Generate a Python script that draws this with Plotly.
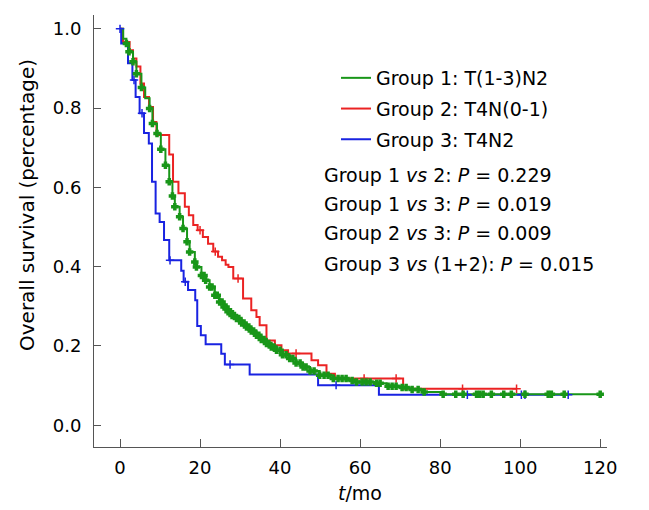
import plotly.graph_objects as go

# ---------------- data ----------------
# Group 1: T(1-3)N2  (green)
g1_time = [0, 0.8, 1.6, 2.25, 3.25, 4.1, 5.35, 6.3, 7.4, 8.1, 9.25, 10.2, 11.35, 12.3, 13.1,
           13.7, 14.9, 15.75, 16.75, 17.4, 18.7, 19.1, 20.35, 21.4, 22.4, 23.7, 24.9, 26.0,
           27.0, 28.0, 29.1, 30.4, 31.6, 32.8, 34.1, 35.3, 36.6, 37.8, 39.1, 40.6, 42.4,
           44.0, 45.75, 47.5, 49.9, 53.3, 57.0, 59.1, 64.1, 66.6, 70.0, 72.4, 75.75, 80.75]
g1_surv = [1.0, 0.975, 0.963, 0.942, 0.917, 0.887, 0.852, 0.825, 0.799, 0.761, 0.736, 0.696,
           0.656, 0.614, 0.578, 0.551, 0.526, 0.496, 0.463, 0.437, 0.412, 0.399, 0.378, 0.366,
           0.349, 0.328, 0.311, 0.298, 0.286, 0.277, 0.269, 0.258, 0.248, 0.238, 0.227, 0.216,
           0.206, 0.197, 0.189, 0.178, 0.168, 0.157, 0.147, 0.137, 0.126, 0.118, 0.113, 0.109,
           0.106, 0.098, 0.095, 0.090, 0.084, 0.078]
g1_end = 120.0
g1_censor = [1.6, 2.25, 3.25, 4.1, 5.35, 7.4, 8.1, 9.25, 10.2, 11.35, 12.3, 13.1, 13.7, 14.9,
             15.75, 16.75, 17.4, 18.7, 19.1, 20.35, 21.0, 21.4, 22.4, 23.0, 23.7, 24.3, 24.9,
             25.5, 26.0, 26.5, 27.0, 27.6, 28.0, 28.6, 29.1, 29.7, 30.4, 31.0, 31.6, 32.2,
             32.8, 33.4, 34.1, 34.7, 35.3, 36.0, 36.6, 37.2, 37.8, 38.5, 39.1, 40.0, 40.6,
             41.5, 42.4, 43.2, 44.0, 45.0, 45.75, 46.5, 47.5, 48.5, 49.9, 51.0, 52.0, 53.3,
             54.5, 55.5, 56.5, 58.0, 59.1, 60.5, 61.5, 62.5, 64.1, 65.0, 67.0, 68.0, 69.0,
             70.5, 71.5, 73.0, 74.5, 76.0, 80.75, 83.9, 85.75, 89.1, 89.9, 90.75, 92.8, 95.9,
             97.8, 101.2, 107.0, 107.8, 111.0, 120.0]

# Group 2: T4N(0-1)  (red)
g2_time = [0, 0.75, 2.4, 3.25, 4.1, 5.1, 6.0, 7.25, 8.25, 9.1, 12.3, 13.25, 14.6, 16.2, 17.2,
           18.3, 19.4, 20.7, 22.0, 23.3, 24.5, 25.5, 26.4, 27.1, 28.3, 30.75, 32.8, 34.1,
           34.9, 36.6, 38.7, 40.35, 42.0, 47.85, 49.5, 51.6, 53.7, 70.75]
g2_surv = [1.0, 0.967, 0.946, 0.925, 0.905, 0.862, 0.828, 0.803, 0.765, 0.732, 0.683, 0.614,
           0.585, 0.551, 0.530, 0.505, 0.492, 0.475, 0.458, 0.438, 0.425, 0.416, 0.405, 0.399,
           0.370, 0.320, 0.290, 0.273, 0.252, 0.214, 0.202, 0.189, 0.181, 0.164, 0.151, 0.130,
           0.118, 0.092]
g2_end = 99.1
g2_censor = [20.0, 23.8, 29.5, 44.0, 61.0, 69.0, 85.6, 99.1]

# Group 3: T4N2  (blue)
g3_time = [0, 0.3, 2.0, 3.1, 3.9, 4.9, 6.0, 7.2, 8.0, 8.9, 9.9, 11.0, 12.3, 15.3, 15.9, 17.0,
           18.8, 19.3, 20.2, 21.4, 25.3, 26.2, 32.4, 49.5, 64.7]
g3_surv = [1.0, 0.963, 0.913, 0.871, 0.828, 0.787, 0.737, 0.711, 0.614, 0.534, 0.513, 0.467,
           0.416, 0.390, 0.362, 0.341, 0.315, 0.250, 0.227, 0.204, 0.180, 0.153, 0.128, 0.101,
           0.077]
g3_end = 112.0
g3_censor = [0, 3.5, 5.5, 12.5, 16.3, 27.5, 54.0, 86.8, 100.3, 101.2, 112.0]

group_names = ["Group 1: T(1-3)N2", "Group 2: T4N(0-1)", "Group 3: T4N2"]
group_colors = ["rgb(25,150,25)", "rgb(235,35,35)", "rgb(25,35,225)"]

x_ticks = [0, 20, 40, 60, 80, 100, 120]
y_ticks = [0.0, 0.2, 0.4, 0.6, 0.8, 1.0]
y_ticklabels = ["0.0", "0.2", "0.4", "0.6", "0.8", "1.0"]

stat_lines = [
    "Group 1 <i>vs</i> 2: <i>P</i> = 0.229",
    "Group 1 <i>vs</i> 3: <i>P</i> = 0.019",
    "Group 2 <i>vs</i> 3: <i>P</i> = 0.009",
    "Group 3 <i>vs</i> (1+2): <i>P</i> = 0.015",
]

FONT = "DejaVu Sans, Verdana, sans-serif"


def step_at(times, surv, t):
    val = surv[0]
    for ti, si in zip(times, surv):
        if ti <= t:
            val = si
    return val


groups = [
    (g1_time, g1_surv, g1_end, g1_censor),
    (g2_time, g2_surv, g2_end, g2_censor),
    (g3_time, g3_surv, g3_end, g3_censor),
]

fig = go.Figure()
draw_order = [1, 2, 0]  # red, blue, then green on top
for gi in draw_order:
    times, surv, end, cens = groups[gi]
    xs = list(times) + [end]
    ys = list(surv) + [surv[-1]]
    fig.add_trace(go.Scatter(
        x=xs, y=ys, mode="lines", line_shape="hv",
        line=dict(color=group_colors[gi], width=2),
        name=group_names[gi], legendgroup=f"g{gi}", legendrank=gi + 1,
        showlegend=True,
    ))
for gi in draw_order:
    times, surv, end, cens = groups[gi]
    cy = [step_at(times, surv, c) for c in cens]
    sym = "cross" if gi == 0 else "cross-thin-open"
    fig.add_trace(go.Scatter(
        x=cens, y=cy, mode="markers",
        marker=dict(symbol=sym, size=5 if gi == 0 else 6, color=group_colors[gi],
                    line=dict(color=group_colors[gi], width=1.5)),
        legendgroup=f"g{gi}", showlegend=False, hoverinfo="skip",
    ))

# plot area geometry (pixels)
L, R, T, B = 94, 42, 15, 63
H = 510 - T - B
W = 649 - L - R

def py(p):  # pixel y -> paper y
    return (510 - B - p) / H

def px(p):  # pixel x -> paper x
    return (p - L) / W

annotations = []
for i, line in enumerate(stat_lines):
    annotations.append(dict(
        x=px(322), y=py([175, 204, 233, 264][i]), xref="paper", yref="paper",
        xanchor="left", yanchor="middle", showarrow=False, text=line,
        font=dict(family=FONT, size=19, color="black"),
    ))
annotations.append(dict(
    x=60, y=py(493), xref="x", yref="paper", xanchor="center", yanchor="middle",
    showarrow=False, text="<i>t</i>/mo", font=dict(family=FONT, size=19, color="black"),
))
annotations.append(dict(
    x=px(27), y=py(205), xref="paper", yref="paper", xanchor="center", yanchor="middle",
    showarrow=False, textangle=-90, text="Overall survival (percentage)",
    font=dict(family=FONT, size=20, color="black"),
))

axis_common = dict(
    showline=True, linecolor="#555555", linewidth=1, showgrid=False, zeroline=False,
    ticks="inside", tickcolor="#555555", tickwidth=1, automargin=False,
    tickfont=dict(family=FONT, size=18, color="black"),
)

fig.update_layout(
    width=649, height=510,
    margin=dict(l=L, r=R, t=T, b=B, autoexpand=False),
    paper_bgcolor="white", plot_bgcolor="white",
    font=dict(family=FONT, size=18, color="black"),
    xaxis=dict(range=[-6.5, 121.7], tickvals=x_ticks, ticklen=8, ticklabelstandoff=4,
               **axis_common),
    yaxis=dict(range=[-0.055, 1.035], tickvals=y_ticks, ticktext=y_ticklabels, ticklen=7,
               ticklabelstandoff=8, **axis_common),
    legend=dict(x=px(336), y=py(59), xanchor="left", yanchor="top",
                bgcolor="rgba(0,0,0,0)", font=dict(family=FONT, size=19, color="black"),
                tracegroupgap=3, itemwidth=30),
    annotations=annotations,
    showlegend=True,
)

fig.write_html("out.html", config={"displayModeBar": False},
               post_script="document.body.style.margin='0px';")
